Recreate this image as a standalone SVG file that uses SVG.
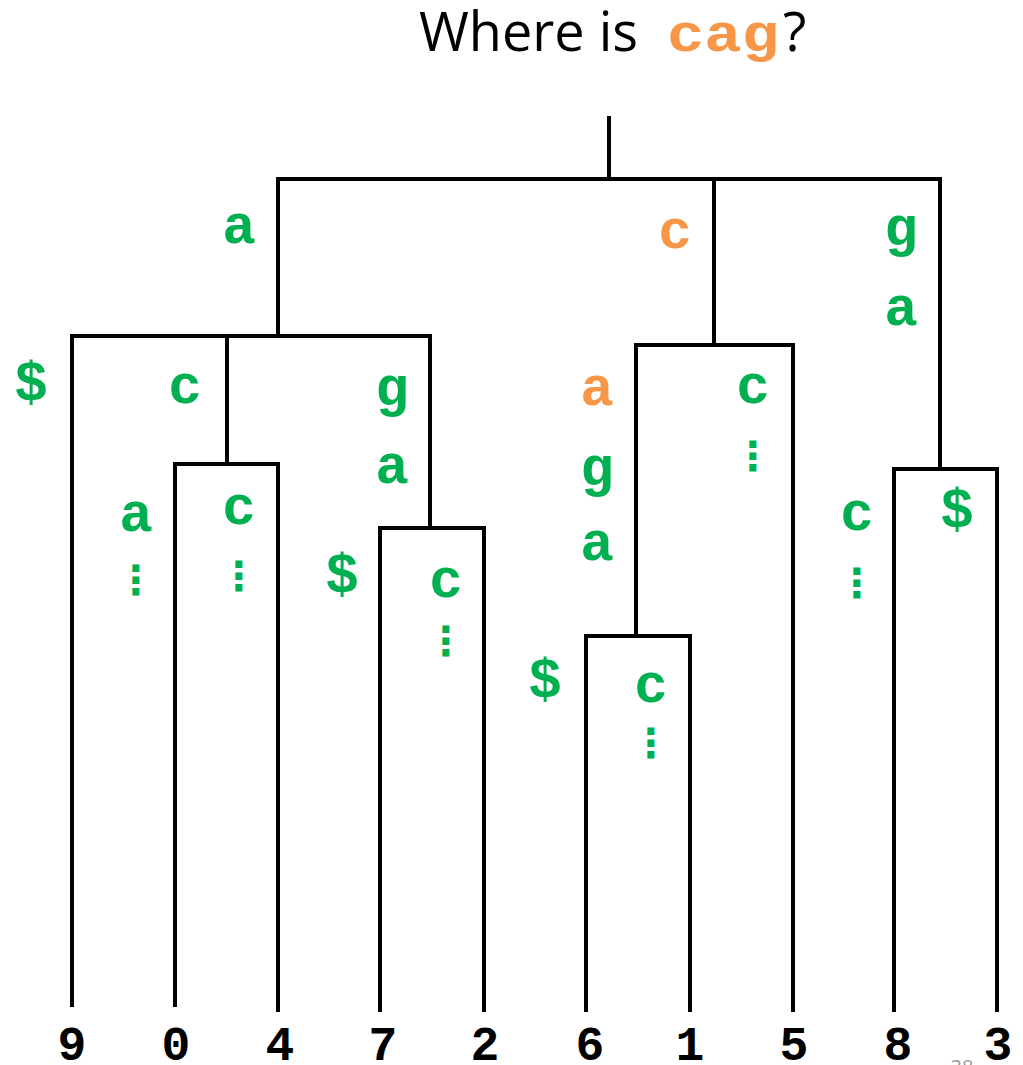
<svg xmlns="http://www.w3.org/2000/svg" width="1023" height="1065" viewBox="0 0 1023 1065">
<style>
.e{stroke:#000;stroke-width:4;fill:none;stroke-linecap:square}
.l{font-family:"Liberation Mono","Courier New",monospace;font-weight:bold;font-size:56px;text-anchor:middle;fill:#00B050}
.o{fill:#F79646}
.v{font-family:"Noto Sans CJK SC","DejaVu Sans",sans-serif;font-weight:bold;font-size:40px;text-anchor:middle;fill:#00B050}
.n{font-family:"Liberation Mono","Courier New",monospace;font-weight:bold;font-size:48px;text-anchor:middle;fill:#000}
</style>
<rect width="1023" height="1065" fill="#fff"/>
<g id="title">
<text x="419" y="51" font-family="Open Sans, Liberation Sans, sans-serif" font-size="54" fill="#000">Where is</text>
<text x="667" y="51" font-family="Liberation Mono, Courier New, monospace" font-weight="bold" font-size="54" fill="#F79646" textLength="112" lengthAdjust="spacingAndGlyphs">cag</text>
<text x="783" y="51" font-family="Open Sans, Liberation Sans, sans-serif" font-size="54" fill="#000">?</text>
</g>
<g id="connectors">
<path class="e" d="M609 118V179M278 179H940M278 179V336M714 179V345M940 179V469"/>
<path class="e" d="M72 336H430M72 336V1005M227 336V464M430 336V528"/>
<path class="e" d="M175 464H278M175 464V1005M278 464V1010"/>
<path class="e" d="M380 528H484M380 528V1010M484 528V1010"/>
<path class="e" d="M636 345H793M636 345V636M793 345V1010"/>
<path class="e" d="M586 636H690M586 636V1010M690 636V1010"/>
<path class="e" d="M894 469H997M894 469V1010M997 469V1010"/>
</g>
<g id="labels">
<text class="l" x="239" y="243">a</text>
<text class="l o" x="675" y="248">c</text>
<text class="l" x="901" y="245">g</text>
<text class="l" x="901" y="325">a</text>
<text class="l" x="31" y="400">$</text>
<text class="l" x="185" y="403">c</text>
<text class="l" x="392" y="405">g</text>
<text class="l" x="392" y="483">a</text>
<text class="l" x="136" y="531">a</text>
<text class="v" x="136" y="594">⋮</text>
<text class="l" x="239" y="524">c</text>
<text class="v" x="239" y="590">⋮</text>
<text class="l" x="342" y="592">$</text>
<text class="l" x="446" y="597">c</text>
<text class="v" x="446" y="655">⋮</text>
<text class="l o" x="597" y="405">a</text>
<text class="l" x="597" y="485">g</text>
<text class="l" x="597" y="560">a</text>
<text class="l" x="753" y="403">c</text>
<text class="v" x="753" y="470">⋮</text>
<text class="l" x="545" y="697">$</text>
<text class="l" x="651" y="702">c</text>
<text class="v" x="651" y="757">⋮</text>
<text class="l" x="857" y="530">c</text>
<text class="v" x="857" y="597">⋮</text>
<text class="l" x="957" y="527">$</text>
</g>
<g id="leaves">
<text class="n" x="72" y="1060">9</text>
<text class="n" x="176" y="1060">0</text>
<text class="n" x="280" y="1060">4</text>
<text class="n" x="383" y="1060">7</text>
<text class="n" x="485" y="1060">2</text>
<text class="n" x="590" y="1060">6</text>
<text class="n" x="690" y="1060">1</text>
<text class="n" x="794" y="1060">5</text>
<text class="n" x="898" y="1060">8</text>
<text class="n" x="998" y="1060">3</text>
</g>
<text x="962" y="1074" font-family="Open Sans, Liberation Sans, sans-serif" font-size="20" fill="#999" text-anchor="middle">38</text>
</svg>
